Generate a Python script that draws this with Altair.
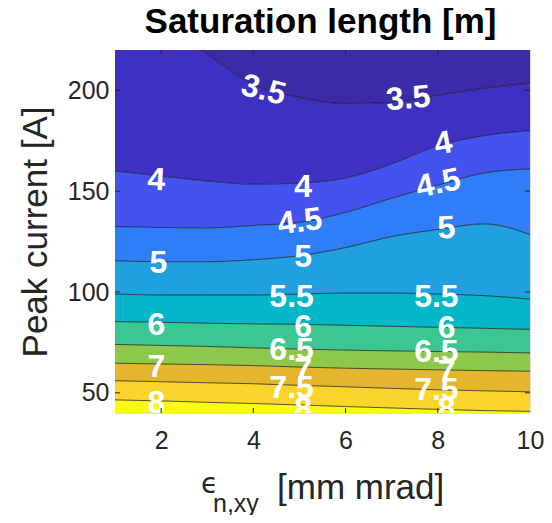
import altair as alt
import pandas as pd

# ---- data ----
X_VALUES = [1, 2, 3, 4, 5, 6, 7, 8, 9, 10]
LEVELS = [3.5, 4.0, 4.5, 5.0, 5.5, 6.0, 6.5, 7.0, 7.5, 8.0]
LINE_35 = [250, 236, 218, 203, 196.5, 193.5, 194, 197.5, 201, 203.6]
LINE_40 = [160, 157.5, 155, 153.5, 154, 156.5, 163.5, 172.5, 177.5, 180]
LINE_45 = [132.4, 132, 131.8, 133, 134.5, 139.5, 146.5, 153, 159, 161]
LINE_50 = [115.5, 115, 115, 116, 118, 122, 127.5, 131, 133.8, 128.5]
LINE_55 = [99, 98.5, 98.5, 98.5, 99, 99.5, 99.5, 99, 98.2, 96.5]
LINE_60 = [85.3, 85, 84.5, 84.2, 84, 83.5, 83, 82.5, 82, 81.5]
LINE_65 = [74, 73.5, 73, 72.3, 71.7, 71.2, 70.8, 70.5, 70.2, 69.8]
LINE_70 = [64.7, 64.3, 64, 63.5, 62.8, 62.2, 61.8, 61.4, 61, 60.7]
LINE_75 = [56, 55.5, 55, 54.5, 53.7, 53, 52.2, 51.5, 51, 50.5]
LINE_80 = [46.5, 46, 45.3, 44.7, 44, 43.2, 42.5, 41.8, 41.2, 40.8]
CONTOURS = [LINE_35, LINE_40, LINE_45, LINE_50, LINE_55, LINE_60,
            LINE_65, LINE_70, LINE_75, LINE_80]

X_DOMAIN = [1, 10]
Y_DOMAIN = [40, 220]
X_TICKS = [2, 4, 6, 8, 10]
Y_TICKS = [50, 100, 150, 200]

BAND_NAMES = ["<3.5", "3.5-4", "4-4.5", "4.5-5", "5-5.5", "5.5-6",
              "6-6.5", "6.5-7", "7-7.5", "7.5-8", ">8"]
BAND_COLORS = ["#3a2ba6", "#3d30c3", "#4452ef", "#2f7df7", "#21a0e0",
               "#03b7c9", "#3cc691", "#8dc84b", "#e4b62d", "#f9d52b",
               "#f8fa12"]

LABEL_TEXT = ["3.5", "3.5", "4", "4", "4", "4.5", "4.5", "5", "5", "5",
              "5.5", "5.5", "6", "6", "6", "6.5", "6.5", "7", "7", "7",
              "7.5", "7.5", "8", "8", "8"]
LABEL_X = [4.22, 7.36, 1.9, 5.08, 8.12, 5.01, 8.01, 1.94, 5.08, 8.19,
           4.83, 7.97, 1.9, 5.08, 8.19, 4.83, 7.97, 1.9, 5.08, 8.19,
           4.83, 7.97, 1.9, 5.08, 8.19]
LABEL_Y = [200.2, 196, 155.5, 152.2, 173.7, 134.9, 153.9, 114.2, 117.5, 131.6,
           97.7, 97.7, 83.7, 82.8, 82, 71.3, 70.4, 63, 61.3, 60.5,
           52.3, 51.4, 45, 42, 42]
LABEL_ANGLE = [14, 355, 3, 0, 350, 352, 348, 0, 0, 356,
               0, 0, 0, 0, 0, 0, 0, 0, 0, 0,
               0, 0, 0, 0, 0]

TITLE = "Saturation length [m]"
Y_TITLE = "Peak current [A]"
X_TITLE_PARTS = ["\u03f5", "n,xy", "[mm mrad]"]

W, H = 415, 363
FONT = "Liberation Sans"

# ---- build tables ----
band_rows = []
for k, name in enumerate(BAND_NAMES):
    for i, xv in enumerate(X_VALUES):
        hi = Y_DOMAIN[1] if k == 0 else CONTOURS[k - 1][i]
        lo = Y_DOMAIN[0] if k == len(CONTOURS) else CONTOURS[k][i]
        band_rows.append({"x": xv, "lo": lo, "hi": hi, "band": name, "k": k})
bands = pd.DataFrame(band_rows)

line_rows = []
for lev, vals in zip(LEVELS, CONTOURS):
    for xv, yv in zip(X_VALUES, vals):
        line_rows.append({"x": xv, "y": yv, "level": lev})
lines = pd.DataFrame(line_rows)

labels = pd.DataFrame({"t": LABEL_TEXT, "x": LABEL_X, "y": LABEL_Y, "a": LABEL_ANGLE})

xs = alt.Scale(domain=X_DOMAIN, nice=False, zero=False)
ys = alt.Scale(domain=Y_DOMAIN, nice=False, zero=False)

x_axis = alt.Axis(values=X_TICKS, title=None, grid=False, domain=False, ticks=False,
                  labelFontSize=25, labelFont=FONT, labelColor="#262626",
                  labelPadding=15, labelFlush=False, labelOverlap=False)
y_axis = alt.Axis(values=Y_TICKS, title=Y_TITLE, grid=False, domain=False,
                  ticks=False, labelFontSize=25, labelFont=FONT, labelColor="#262626",
                  labelPadding=6, titleFontSize=35, titleFont=FONT,
                  titleFontWeight="normal", titleColor="#262626", titlePadding=14)

area = alt.Chart(bands).mark_area(interpolate="monotone", clip=True).encode(
    x=alt.X("x:Q", scale=xs, axis=x_axis),
    y=alt.Y("lo:Q", scale=ys, axis=y_axis, stack=None),
    y2="hi:Q",
    color=alt.Color("band:N", scale=alt.Scale(domain=BAND_NAMES, range=BAND_COLORS),
                    legend=None),
    detail="k:N",
)

contour = alt.Chart(lines).mark_line(interpolate="monotone", clip=True,
                                      color="#111111", strokeWidth=0.7).encode(
    x=alt.X("x:Q", scale=xs),
    y=alt.Y("y:Q", scale=ys),
    detail="level:N",
)

text = alt.Chart(labels).mark_text(font=FONT, fontSize=32, fontWeight="bold",
                                   color="white", align="center", baseline="middle",
                                   clip=True).encode(
    x=alt.X("x:Q", scale=xs),
    y=alt.Y("y:Q", scale=ys),
    text="t:N",
    angle=alt.Angle("a:Q", scale=None),
)

xt = pd.DataFrame({"v": X_TICKS[:-1]})
yt = pd.DataFrame({"v": Y_TICKS})
tick_style = dict(color="#262626", strokeWidth=1)
ticks = alt.layer(
    alt.Chart(xt).mark_rule(**tick_style).encode(x=alt.X("v:Q", scale=xs), y=alt.value(H), y2=alt.value(H - 5)),
    alt.Chart(xt).mark_rule(**tick_style).encode(x=alt.X("v:Q", scale=xs), y=alt.value(0), y2=alt.value(5)),
    alt.Chart(yt).mark_rule(**tick_style).encode(y=alt.Y("v:Q", scale=ys), x=alt.value(0), x2=alt.value(5)),
    alt.Chart(yt).mark_rule(**tick_style).encode(y=alt.Y("v:Q", scale=ys), x=alt.value(W), x2=alt.value(W - 5)),
)

xt_df = pd.DataFrame({"t": X_TITLE_PARTS})
title_df = pd.DataFrame({"t": [TITLE]})
annot = alt.layer(
    alt.Chart(xt_df.iloc[[0]]).mark_text(font="DejaVu Sans", fontSize=28, color="#262626",
                                         align="left", baseline="alphabetic").encode(
        text="t:N", x=alt.value(86), y=alt.value(443)),
    alt.Chart(xt_df.iloc[[1]]).mark_text(font=FONT, fontSize=25, color="#262626",
                                         align="left", baseline="alphabetic").encode(
        text="t:N", x=alt.value(98), y=alt.value(462)),
    alt.Chart(xt_df.iloc[[2]]).mark_text(font=FONT, fontSize=35, color="#262626",
                                         align="left", baseline="alphabetic").encode(
        text="t:N", x=alt.value(162), y=alt.value(449)),
    alt.Chart(title_df).mark_text(font=FONT, fontSize=35, fontWeight="bold", color="black",
                                  align="center", baseline="alphabetic").encode(
        text="t:N", x=alt.value(205.5), y=alt.value(-17)),
)

chart = alt.layer(area, contour, text, ticks, annot).properties(
    width=W, height=H,
    autosize=alt.AutoSizeParams(type="none"),
    padding={"left": 107, "top": 42, "right": 14, "bottom": 102},
).configure_view(stroke="#262626", strokeWidth=1).configure(background="white")

chart.save("out.html", embed_options={"renderer": "svg", "actions": False})
